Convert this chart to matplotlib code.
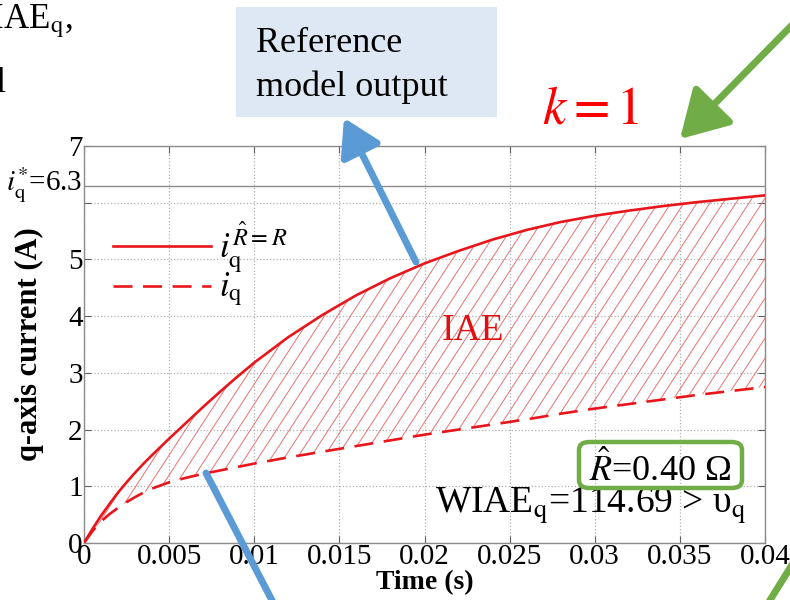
import matplotlib
matplotlib.use("Agg")
import matplotlib.pyplot as plt
import numpy as np
from matplotlib.collections import LineCollection
from matplotlib.patches import FancyArrowPatch, FancyBboxPatch, Rectangle

plt.rcParams["font.family"] = ["Liberation Serif", "DejaVu Serif"]
plt.rcParams["mathtext.fontset"] = "stix"

# ---- data -------------------------------------------------------------
time_s = [0.0000, 0.0005, 0.0010, 0.0015, 0.0020, 0.0025, 0.0030, 0.0035,
          0.0040, 0.0050, 0.0060, 0.0070, 0.0080, 0.0090, 0.0100, 0.0120,
          0.0140, 0.0160, 0.0180, 0.0200, 0.0220, 0.0240, 0.0260, 0.0280,
          0.0300, 0.0320, 0.0340, 0.0360, 0.0380, 0.0400]
iq_reference = [0.00, 0.25, 0.48, 0.69, 0.89, 1.07, 1.24, 1.40,
                1.55, 1.84, 2.12, 2.40, 2.67, 2.93, 3.18, 3.63,
                4.02, 4.37, 4.67, 4.93, 5.15, 5.35, 5.52, 5.66,
                5.77, 5.86, 5.94, 6.01, 6.07, 6.13]
iq_actual = [0.00, 0.21, 0.38, 0.51, 0.62, 0.72, 0.81, 0.89,
             0.96, 1.07, 1.15, 1.22, 1.28, 1.34, 1.40, 1.51,
             1.61, 1.71, 1.81, 1.91, 2.00, 2.09, 2.18, 2.28,
             2.37, 2.45, 2.53, 2.61, 2.68, 2.75]
iq_target = 6.3
x_ticks = [0, 0.005, 0.01, 0.015, 0.02, 0.025, 0.03, 0.035, 0.04]
x_tick_labels = ["0", "0.005", "0.01", "0.015", "0.02", "0.025", "0.03", "0.035", "0.04"]
y_ticks = [0, 1, 2, 3, 4, 5, 6, 7]
y_tick_labels = ["0", "1", "2", "3", "4", "5", "", "7"]
r_hat = 0.40
wiae_q = 114.69

RED = "#e8161b"
BLUE = "#5b9bd5"
GREEN = "#70ad47"
W, H = 790, 600


def fx(x):
    return x / W


def fy(y):
    return 1 - y / H


fig = plt.figure(figsize=(7.9, 6), dpi=100)
ax = fig.add_axes([fx(84), fy(543), 681 / W, 397 / H])

# ---- curves ------------------------------------------------------------
ax.plot(time_s, iq_reference, color=RED, lw=1.9, zorder=4)
ax.plot(time_s, iq_actual, color=RED, lw=1.9, dashes=(7.2, 4.0), zorder=4)

# diagonal hatching between the curves (IAE region)
band = ax.fill_between(time_s, iq_actual, iq_reference, facecolor="none",
                       edgecolor="none")
step = 13 / 681
lean = 0.65 * 397 / 681
starts = np.arange(-lean - step, 1 + step, step)
segs = [[(s, 0), (s + lean, 1)] for s in starts]
hatch = LineCollection(segs, colors="#e57373", linewidths=0.7,
                       transform=ax.transAxes, zorder=3)
hatch.set_clip_path(band.get_paths()[0], ax.transData)
ax.add_collection(hatch)

# reference level
ax.axhline(iq_target, color="#8c8c8c", lw=1.0, zorder=2)

# ---- axes styling -------------------------------------------------------
ax.set_xlim(0, 0.04)
ax.set_ylim(0, 7)
ax.set_xticks(x_ticks)
ax.set_xticklabels(x_tick_labels)
ax.set_yticks(y_ticks)
ax.set_yticklabels(y_tick_labels)
ax.tick_params(direction="in", length=5, color="#606060", width=0.8,
               top=True, right=True, labelsize=21, pad=1)
ax.grid(True, ls=":", color="#b0b0b0", lw=0.9)
for sp in ax.spines.values():
    sp.set_color("#8c8c8c")
    sp.set_linewidth(1.0)

ax.text(-0.0001, iq_target, r"$i_{\mathrm{q}}^{*}$=6.3", transform=ax.transData,
        fontsize=21, ha="right", va="center")
ax.set_xlabel("Time (s)", fontsize=20, fontweight="bold", labelpad=0)
ax.set_ylabel("q-axis current (A)", fontsize=22, fontweight="bold", labelpad=17)

# legend drawn by hand
ax.plot([0.0426, 0.1865], [0.748, 0.748], color=RED, lw=1.9,
        transform=ax.transAxes)
ax.plot([0.0426, 0.1865], [0.647, 0.647], color=RED, lw=1.9,
        dashes=(7.2, 4.0), transform=ax.transAxes)
ax.text(0.198, 0.72, r"$i_{\mathrm{q}}^{\hat{R}=R}$", transform=ax.transAxes,
        fontsize=25, ha="left", va="baseline")
ax.text(0.198, 0.622, r"$i_{\mathrm{q}}$", transform=ax.transAxes,
        fontsize=25, ha="left", va="baseline")

ax.text(0.571, 0.535, "IAE", transform=ax.transAxes, color="#e01010",
        fontsize=27, ha="center", va="center")

ax.text(0.846, 0.185, r"$\hat{R}$" + f"={r_hat:.2f} Ω", transform=ax.transAxes,
        fontsize=26, ha="center", va="center")
fig.add_artist(FancyBboxPatch((fx(579), fy(488)), 163 / W, 46 / H,
                              boxstyle="round,pad=0,rounding_size=0.013",
                              transform=fig.transFigure, facecolor="none",
                              edgecolor=GREEN, lw=3.2, zorder=6))
ax.text(0.973, 0.095, r"WIAE$_{\mathrm{q}}$=" + f"{wiae_q:.2f} > υ" + r"$_{\mathrm{q}}$",
        transform=ax.transAxes, fontsize=27, ha="right", va="center")

# ---- surrounding slide elements -----------------------------------------
fig.add_artist(Rectangle((fx(236), fy(117)), 261 / W, 110 / H,
                         transform=fig.transFigure, facecolor="#dde8f4",
                         edgecolor="none", zorder=1))
fig.text(fx(256), fy(52), "Reference", fontsize=26, ha="left", va="baseline")
fig.text(fx(256), fy(96), "model output", fontsize=26, ha="left", va="baseline")

fig.text(fx(591), fy(123), r"$k=1$", color="#ff0000", fontsize=38,
         ha="center", va="baseline")

fig.text(fx(73), fy(28), r"WIAE$_{\mathrm{q}}$,", fontsize=25, ha="right",
         va="baseline")
fig.text(fx(6), fy(92), "model", fontsize=25, ha="right", va="baseline")
fig.text(fx(785), fy(38), "WIAE", fontsize=20, fontweight="bold",
         rotation=-90, ha="left", va="top")

fig.add_artist(FancyArrowPatch((fx(416), fy(262)), (fx(344), fy(118)),
                               transform=fig.transFigure, color=BLUE, lw=5,
                               arrowstyle="-|>,head_length=10,head_width=6",
                               mutation_scale=2.2, shrinkA=0, shrinkB=0,
                               zorder=7))
fig.add_artist(FancyArrowPatch((fx(206), fy(473)), (fx(278), fy(612)),
                               transform=fig.transFigure, color=BLUE, lw=5,
                               arrowstyle="-", shrinkA=0, shrinkB=0, zorder=7))
fig.add_artist(FancyArrowPatch((fx(795), fy(22)), (fx(680), fy(139)),
                               transform=fig.transFigure, color=GREEN, lw=5,
                               arrowstyle="-|>,head_length=12,head_width=7",
                               mutation_scale=2.4, shrinkA=0, shrinkB=0,
                               zorder=7))
fig.add_artist(FancyArrowPatch((fx(767), fy(605)), (fx(795), fy(560)),
                               transform=fig.transFigure, color=GREEN, lw=5,
                               arrowstyle="-", shrinkA=0, shrinkB=0, zorder=7))

fig.savefig("out.png", dpi=100)
